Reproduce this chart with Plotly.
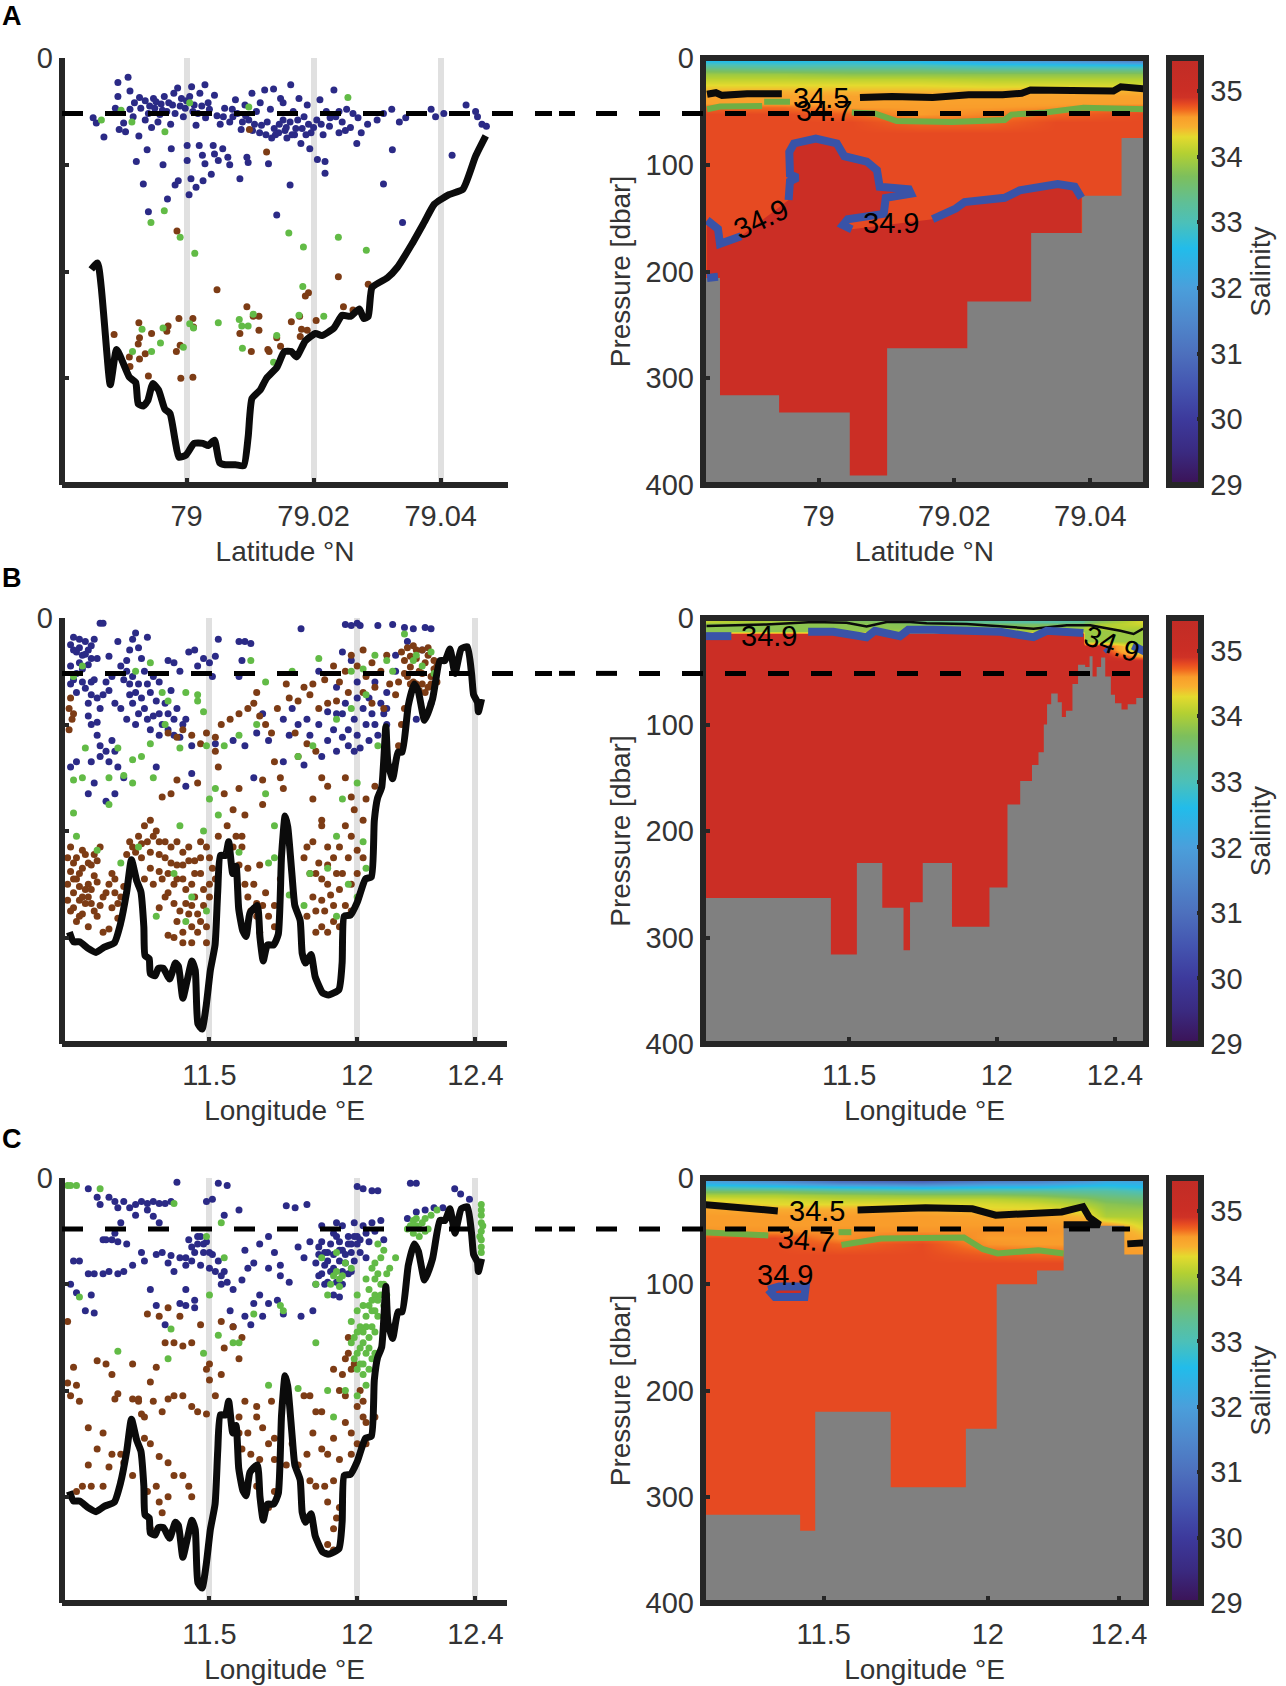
import plotly.graph_objects as go

W, H = 1286, 1686
FONT = "Liberation Sans"
DARK = "#262626"
TEXT = "#333333"
NAVY = "#2b2a86"
GREEN = "#62bb46"
BROWN = "#7d3c15"

# salinity colour map
sal_vals = [29, 29.5, 30, 30.5, 31, 31.5, 32, 32.6, 33, 33.3, 33.7, 34.05, 34.3, 34.45, 34.6, 34.72, 34.8, 34.9, 35, 35.5]
sal_cols = ["#3b1255", "#3a2a80", "#3d3a9c", "#4455b0", "#4d70bd", "#4f88cc", "#4a9fdb", "#22bcea", "#4cc0b8", "#5fbf96",
            "#7dbf5c", "#b4d032", "#e4da2e", "#f8b030", "#f99d2b", "#f0641f", "#e64a22", "#cf3226", "#cb2e25", "#c02c26"]
sal_ticks = [29, 30, 31, 32, 33, 34, 35]

pressure_ticks = [0, 100, 200, 300, 400]
lat_ticks = [79, 79.02, 79.04]
lat_labels = ["79", "79.02", "79.04"]
lon_ticks = [11.5, 12, 12.4]
lon_labels = ["11.5", "12", "12.4"]
dashed_p = [52, 52, 48]

# ---- ship track bottom depth
a_track_lat = [78.985, 78.986, 78.988, 78.989, 78.991, 78.992, 78.9924, 78.9932, 78.9939, 78.9947, 78.9956, 78.9966, 78.9974,
               78.9982, 78.9988, 78.9999, 79.0012, 79.0026, 79.0034, 79.0044, 79.0052, 79.0061, 79.0077, 79.009, 79.0097,
               79.0103, 79.0116, 79.0126, 79.0142, 79.0154, 79.0165, 79.0173, 79.0187, 79.0203, 79.0213, 79.0232, 79.0245,
               79.0258, 79.0272, 79.0279, 79.0286, 79.0292, 79.0316, 79.0332, 79.0355, 79.0374, 79.039, 79.0413, 79.0435,
               79.0455, 79.0471]
a_track_p = [198, 192, 306, 273, 299, 304, 324, 326, 321, 305, 311, 329, 333, 358, 374, 372, 361, 361, 363, 358, 379, 381, 381,
             382, 355, 319, 311, 300, 290, 275, 275, 280, 265, 258, 260, 253, 241, 242, 235, 244, 242, 215, 206, 196, 174,
             154, 137, 128, 123, 92, 73]
lon_track = [11.026, 11.04, 11.061, 11.088, 11.116, 11.144, 11.178, 11.199, 11.22, 11.236, 11.254, 11.268, 11.278, 11.282, 11.296,
             11.3, 11.316, 11.327, 11.344, 11.365, 11.385, 11.395, 11.41, 11.424, 11.441, 11.452, 11.461, 11.475, 11.489, 11.503,
             11.519, 11.528, 11.537, 11.554, 11.565, 11.579, 11.59, 11.599, 11.613, 11.624, 11.637, 11.662, 11.671, 11.682, 11.696,
             11.717, 11.733, 11.744, 11.756, 11.765, 11.779, 11.789, 11.807, 11.814, 11.825, 11.844, 11.858, 11.883, 11.903, 11.938,
             11.949, 11.956, 11.977, 12.0, 12.028, 12.048, 12.058, 12.069, 12.083, 12.097, 12.104, 12.12, 12.138, 12.152, 12.173,
             12.193, 12.207, 12.228, 12.255, 12.28, 12.297, 12.314, 12.331, 12.352, 12.373, 12.387, 12.394, 12.407, 12.41, 12.421]
lon_track_p = [295, 304, 304, 310, 314, 309, 305, 287, 257, 227, 247, 257, 290, 317, 320, 334, 336, 329, 329, 339, 324, 327, 357, 341,
               322, 331, 381, 386, 364, 331, 307, 257, 223, 223, 210, 240, 233, 273, 294, 299, 277, 270, 300, 322, 307, 307, 297, 223,
               186, 196, 240, 270, 284, 315, 324, 316, 337, 352, 354, 349, 324, 280, 279, 267, 245, 243, 190, 169, 159, 102, 136, 151,
               126, 126, 82, 62, 69, 96, 76, 40, 40, 29, 52, 29, 27, 52, 72, 79, 88, 76]

# ---- water samples, (position, pressure)
a_blue = [(78.9853,56),(78.9858,61),(78.987,74),(78.9888,47),(78.9894,67),(78.9892,23),(78.9908,18),(78.9892,36),(78.9904,69),(78.9901,61),
          (78.9911,48),(78.9916,55),(78.9911,31),(78.9926,37),(78.9935,40),(78.9948,38),(78.9925,73),(78.9935,58),(78.994,52),(78.9945,65),
          (78.995,47),(78.9955,60),(78.996,43),(78.9965,36),(78.9969,50),(78.9975,62),(78.998,33),(78.9986,28),(78.999,45),(78.9995,55),
          (79,40),(79.0008,27),(79.001,50),(79.0015,63),(79.0021,33),(79.0029,25),(79.0024,45),(79.003,56),(79.0036,48),(79.0044,35),
          (79.0048,54),(79.0053,62),(79.006,47),(79.0068,60),(79.0077,39),(79.008,52),(79.0086,67),(79.0092,44),(79.0098,58),(79.0103,33),
          (79.011,50),(79.0115,70),(79.0123,30),(79.0127,60),(79.0132,48),(79.0137,29),(79.014,72),(79.0148,38),(79.0152,58),(79.0158,75),
          (79.0164,25),(79.0168,50),(79.0172,66),(79.0177,38),(79.018,80),(79.0185,55),(79.019,44),(79.0196,70),(79.021,39),(79.0205,58),
          (79.0215,72),(79.022,50),(79.0225,64),(79.0232,30),(79.0235,55),(79.024,70),(79.0245,60),(79.0252,48),(79.0258,65),(79.027,56),
          (79.0275,70),(79.0285,62),(79.03,58),(79.031,52),(79.0323,48),(79.0335,60),(79.0345,56),(79.0385,48),(79.0392,55),(79.0405,52),
          (79.044,44),(79.0455,50),(79.0458,55),(79.0465,62),(79.0472,64),(78.9921,97),(78.9938,86),(78.9963,100),(78.9976,85),(78.9932,118),
          (78.9982,119),(78.9987,115),(78.997,132),(78.994,144),(79.0004,128),(79.0001,96),(79.0001,82),(79.002,82),(79.0025,91),(79.0029,99),
          (79.0007,113),(79.0015,121),(79.0026,115),(79.0039,109),(79.0042,82),(79.0044,90),(79.005,96),(79.0057,85),(79.0068,100),(79.0065,93),
          (79.0084,113),(79.0095,93),(79.0097,98),(79.0129,99),(79.0163,119),(79.0142,147),(79.0206,95),(79.0218,97),(79.0218,108),(79.0194,85),
          (79.0268,80),(79.0324,86),(79.031,118),(79.034,154),(79.0418,91),(79.0146,62),(79.0155,68),(79.0163,60),(79.017,72),(79.0182,66),
          (79.0192,62),(79.0138,66),(79.0125,72),(79.0107,62),(79.0093,54),(79.0073,55),(79.0012,44),(78.9992,38),(78.9978,44),(78.9958,53),
          (78.9918,42),(78.9928,47),(78.9942,45),(78.9952,41),(78.9962,49),(78.9972,42),(78.9982,52),(78.9998,47),(79.0005,36),(79.0018,52),
          (79.0034,42),(79.0058,55),(79.0072,48),(79.0088,60),(79.0104,68),(79.0118,63),(79.0134,75),(79.0145,70),(79.0157,65),(79.0166,72),
          (79.0175,58),(79.0188,72),(79.02,65),(79.0212,62),(79.0226,56),(79.024,50),(79.025,68),(79.0262,52),(79.0116,42),(79.0152,42)]
a_green = [(78.9866,58),(78.9897,49),(78.9914,60),(78.9966,69),(79.0005,42),(79.0098,46),(79.0254,37),(78.9944,154),(78.9965,143),(78.999,168),
           (79.0013,183),(79.0161,164),(79.0184,177),(79.0239,168),(79.0283,180),(79.0183,214),(78.993,254),(78.9963,253),(78.9959,267),(78.9945,275),
           (78.9915,275),(79.0005,249),(79.0011,253),(78.9995,271),(79.005,248),(79.0083,245),(79.0087,251),(79.0097,251),(79.0088,272),(79.0105,240),
           (79.0142,260),(79.0137,285),(79.0216,242),(79.0177,241)]
a_brown = [(78.9886,259),(78.9925,248),(78.9926,262),(78.9924,268),(78.9945,258),(78.9971,251),(78.9969,256),(78.9988,244),(79.001,244),(79.0011,252),
           (79.0048,217),(79.0095,233),(79.0105,242),(79.0114,242),(79.0114,255),(79.0084,258),(78.999,269),(78.9984,275),(78.9935,277),(78.9926,282),
           (78.991,280),(78.9911,289),(78.994,298),(78.9991,300),(79.001,299),(79.0102,275),(79.0128,273),(79.013,275),(79.0148,270),(79.0142,262),
           (79.0165,247),(79.0178,242),(79.0181,254),(79.0179,261),(79.019,255),(79.0204,246),(79.0187,223),(79.0192,220),(79.0239,205),(79.0247,233),
           (79.0262,236),(79.0286,212),(78.9985,162),(79.0099,67),(79.0126,88)]

b_blue = [(11.03,25),(11.04,18),(11.05,32),(11.06,28),(11.07,35),(11.08,22),(11.09,30),(11.1,26),(11.11,20),(11.12,38),(11.03,45),(11.05,52),(11.07,48),
          (11.13,5),(11.14,5),(11.16,36),(11.19,22),(11.2,45),(11.22,40),(11.23,30),(11.24,20),(11.25,14),(11.26,28),(11.27,38),(11.29,18),(11.22,50),(11.24,55),
          (11.26,62),(11.28,50),(11.03,62),(11.05,70),(11.08,66),(11.09,80),(11.1,60),(11.12,75),(11.14,72),(11.16,68),(11.09,92),(11.1,100),(11.12,98),(11.2,85),
          (11.23,72),(11.24,80),(11.26,90),(11.28,85),(11.3,70),(11.32,78),(11.33,90),(11.35,80),(11.37,68),(11.34,100),(11.36,105),(11.38,110),(11.4,112),(11.42,95),
          (11.44,120),(11.33,60),(11.36,40),(11.38,42),(11.4,50),(11.43,32),(11.45,30),(11.46,45),(11.48,38),(11.5,42),(11.52,36),(11.53,20),(11.51,55),(11.6,22),
          (11.62,22),(11.64,24),(11.61,40),(11.6,55),(11.13,120),(11.15,125),(11.16,135),(11.18,125),(11.12,110),(11.19,140),(11.05,135),(11.03,140),(11.11,155),
          (11.18,165),(11.09,165),(11.15,172),(11.32,140),(11.42,158),(11.44,146),(11.21,150),(11.52,118),(11.58,115),(11.62,120),(11.66,108),(11.7,115),(11.68,90),
          (11.75,95),(11.78,85),(11.8,100),(11.84,110),(11.87,100),(11.9,115),(11.95,90),(11.97,105),(12,110),(12.03,100),(12.05,90),(12.08,80),(11.99,125),(11.93,125),
          (11.82,138),(11.75,135),(11.65,150),(12.1,100),(12.0,5),(11.96,6),(11.98,7),(12.01,7),(12.07,7),(12.12,6),(12.16,9),(12.19,10),(12.23,9),(12.25,10),(12.17,22),
          (12.22,30),(11.81,10),(11.95,32),(11.98,40),(12.0,60),(11.93,65),(11.87,50),(12.06,60),(12.1,70),(12.13,50),(12.2,95),(12.25,80),(11.06,42),(11.09,44),(11.11,58),
          (11.18,80),(11.3,105),(11.31,92),(11.38,95),(11.77,110),(11.83,95),(11.99,95),(12.04,75),(12.07,110),(11.92,105),(11.88,130),
          (11.04,30),(11.06,20),(11.08,34),(11.1,38),(11.04,58),(11.07,60),(11.1,72),(11.13,85),(11.15,60),(11.17,55),(11.21,58),(11.23,62),(11.25,70),(11.27,75),(11.29,62),
          (11.31,55),(11.22,95),(11.25,100),(11.29,95),(11.33,110),(11.36,90),(11.39,85),(11.41,100),(11.13,130),(11.17,115),(11.1,135),(12.02,85),(12.0,75),(11.96,80),
          (11.93,90),(11.9,88),(12.06,100),(12.09,90),(12.04,115),(12.01,122),(11.97,120),(11.95,112),(12.1,85),(12.13,35)]
b_green = [(11.04,55),(11.07,45),(11.25,50),(11.3,42),(11.36,78),(11.34,70),(11.42,70),(11.46,72),(11.46,78),(11.48,88),(11.35,100),(11.3,118),(11.19,122),(11.24,133),
           (11.27,130),(11.21,148),(11.16,150),(11.08,122),(11.04,152),(11.07,150),(11.16,175),(11.04,183),(11.24,155),(11.31,150),(11.49,120),(11.55,120),(11.64,40),
           (11.69,60),(11.78,50),(11.87,38),(11.98,50),(12.06,35),(12.16,15),(12.2,35),(12.12,50),(12.03,72),(11.98,85),(11.93,95),(11.85,120),(11.8,130),(11.66,100),
           (11.6,110),(11.52,160),(11.5,170),(11.53,185),(11.69,165),(11.4,122),(11.72,195),(11.95,170),(12.0,155),(12.07,120),(12.02,210),(11.84,240),(11.7,230),(11.6,220),
           (11.48,200),(11.4,195),(11.26,215),(11.05,205),(11.12,218),(11.2,230),(11.38,240),(11.44,262),(11.32,280),(11.42,285),(11.49,275),(11.72,225),(11.77,260),
           (11.82,270),(11.9,235),(11.93,205),(11.97,250),(12.0,262),(12.03,235),(11.93,280),(12.19,40),(12.22,45),(12.25,32),(12.26,52),(12.1,40),(12.02,48)]
b_brown = [(11.025,85),(11.035,95),(11.025,105),(11.04,90),(11.03,75),(11.36,108),(11.39,112),(11.41,105),(11.44,110),(11.47,118),(11.49,108),(11.52,112),(11.54,100),(11.52,125),
           (11.57,95),(11.6,90),(11.63,85),(11.65,80),(11.67,92),(11.69,100),(11.71,108),(11.66,70),(11.73,85),(11.76,62),(11.77,75),(11.8,78),(11.82,65),(11.84,72),(11.85,62),
           (11.87,85),(11.89,58),(11.9,80),(11.92,45),(11.94,60),(11.96,50),(11.98,35),(12.0,45),(12.02,30),(12.03,55),(12.05,42),(12.06,65),(12.08,50),(12.1,35),(12.11,62),(12.09,85),
           (12.13,72),(12.14,60),(12.02,70),(11.97,70),(11.93,78),(12.05,80),(12.15,32),(12.16,40),(12.17,28),(12.18,46),(12.19,26),(12.2,38),(12.21,50),(12.22,30),(12.23,42),(12.24,28),
           (12.25,55),(12.26,40),(12.27,60),(12.17,55),(12.19,60),(12.21,68),(12.23,70),(12.24,65),(12.16,85),(12.15,100),(12.14,120),(11.79,108),(11.83,118),(11.86,125),(11.88,150),
           (11.8,130),(11.72,135),(11.74,150),(11.75,160),(11.68,152),(11.6,160),(11.55,165),(11.53,140),(11.46,155),(11.39,152),(11.34,168),(11.37,165),(11.9,158),(11.96,150),(11.98,168),
           (11.99,180),(12.03,170),(12.06,158),(11.88,190),(11.85,170),(11.62,185),(11.68,175),(11.58,180),(11.53,205),
           (11.03,215),(11.05,225),(11.07,218),(11.09,230),(11.11,222),(11.13,215),(11.03,238),(11.05,245),(11.07,235),(11.09,250),(11.11,242),(11.04,258),(11.06,265),(11.08,255),(11.1,268),
           (11.03,275),(11.05,285),(11.07,278),(11.09,290),(11.12,280),(11.14,262),(11.16,250),(11.17,272),(11.19,282),(11.16,292),(11.18,258),(11.2,262),(11.22,222),(11.24,215),(11.26,205),
           (11.28,195),(11.3,190),(11.32,200),(11.27,225),(11.3,220),(11.33,222),(11.35,210),(11.37,230),(11.28,245),(11.31,250),(11.34,245),(11.36,258),(11.39,232),(11.41,220),(11.43,215),
           (11.45,228),(11.47,210),(11.5,225),(11.38,250),(11.41,245),(11.44,250),(11.47,240),(11.5,250),(11.42,268),(11.45,262),(11.48,270),(11.39,285),(11.41,295),(11.44,290),(11.47,285),
           (11.36,298),(11.33,272),(11.49,290),(11.56,195),(11.59,205),(11.61,215),(11.63,235),(11.65,250),(11.67,232),(11.63,262),(11.66,268),(11.69,258),(11.7,280),(11.67,295),(11.72,270),
           (11.72,290),(11.74,245),(11.82,225),(11.85,210),(11.88,195),(11.9,215),(11.92,225),(11.84,240),(11.87,230),(11.9,250),(11.93,240),(11.85,262),(11.88,265),(11.91,260),(11.94,255),
           (11.97,225),(11.98,205),(12.0,218),(12.02,190),(11.96,195),(11.83,280),(11.86,295),(11.88,290),(11.9,295),(11.92,285),(11.94,290),(11.98,275),(11.96,270),
           (11.02,225),(11.04,230),(11.06,240),(11.08,222),(11.1,232),(11.12,228),(11.02,250),(11.04,245),(11.06,252),(11.08,268),(11.1,255),(11.12,248),(11.02,265),(11.04,272),(11.06,280),
           (11.07,262),(11.09,262),(11.11,275),(11.13,270),(11.15,258),(11.17,240),(11.18,245),(11.14,295),(11.19,268),(11.21,252),(11.23,210),(11.25,220),(11.27,212),(11.29,210),(11.31,205),
           (11.33,210),(11.35,225),(11.37,215),(11.39,210),(11.41,232),(11.43,228),(11.45,240),(11.47,225),(11.49,215),(11.51,235),(11.3,235),(11.33,238),(11.36,240),(11.39,245),(11.42,255),
           (11.44,270),(11.46,278),(11.48,255),(11.5,262),(11.52,245),(11.35,262),(11.38,268),(11.4,275),(11.43,278),(11.46,295),(11.49,305),(11.41,305),(11.44,305),(11.38,300),(11.62,250),
           (11.64,275),(11.66,280),(11.68,270),(11.6,232),(11.58,215),(11.61,205),(11.83,215),(11.86,240),(11.88,245),(11.9,232),(11.86,275),(11.89,275),(11.92,270),(11.95,240),(11.98,250),
           (12.0,240),(12.02,225),(11.94,215),(12.18,36),(12.2,30),(12.22,52),(12.24,35),(12.26,48),(12.16,52),(12.18,62),(12.2,62),(12.22,62),(12.25,62),(12.27,45)]

c_blue = [(11.09,10),(11.12,18),(11.13,25),(11.16,18),(11.18,22),(11.19,28),(11.21,22),(11.23,28),(11.25,25),(11.27,22),(11.29,24),(11.31,22),(11.33,24),(11.35,24),(11.37,22),(11.29,30),(11.31,36),
          (11.33,42),(11.25,35),(11.2,42),(11.39,4),(11.53,5),(11.56,7),(11.49,22),(11.51,20),(11.55,35),(11.6,30),(11.76,26),(11.79,28),(11.83,25),(11.14,58),(11.15,58),(11.17,58),(11.19,60),
          (11.22,62),(11.18,52),(11.04,78),(11.06,78),(11.09,90),(11.11,90),(11.14,90),(11.16,88),(11.19,90),(11.21,88),(11.24,82),(11.27,70),(11.28,78),(11.32,72),(11.34,70),(11.37,73),(11.4,75),
          (11.42,75),(11.44,65),(11.46,62),(11.47,55),(11.49,60),(11.48,70),(11.51,72),(11.53,78),(11.55,88),(11.5,85),(11.47,82),(11.42,82),(11.38,88),(11.03,100),(11.05,108),(11.1,110),(11.08,125),
          (11.11,127),(11.3,105),(11.32,120),(11.4,118),(11.42,120),(11.45,122),(11.35,138),(11.54,100),(11.56,98),(11.58,105),(11.61,96),(11.63,85),(11.65,80),(11.62,68),(11.67,62),(11.7,55),(11.72,70),
          (11.74,82),(11.7,85),(11.74,92),(11.77,98),(11.8,65),(11.82,75),(11.84,60),(11.86,80),(11.87,65),(11.9,70),(11.92,52),(11.94,60),(11.95,45),(11.97,55),(11.98,70),(11.92,85),(11.94,78),(11.96,80),
          (11.88,90),(11.9,98),(11.92,110),(11.94,112),(11.86,100),(11.95,100),(11.98,88),(12.0,55),(12.02,45),(12.04,60),(12.06,50),(12.08,40),(12.09,58),(11.99,42),(11.93,42),(11.88,45),(12.01,70),(12.03,75),
          (12.0,8),(12.02,10),(12.05,12),(12.07,12),(12.18,5),(12.2,5),(12.33,10),(12.35,15),(12.38,20),(12.17,38),(12.2,32),(12.23,30),(12.26,28),(12.29,28),(11.67,110),(11.7,118),(11.73,115),(11.75,128),(11.65,118),
          (11.57,125),(11.62,130),(11.58,140),(11.64,138),(11.68,130),(11.85,125),(11.81,130),(11.42,105),(11.45,115),
          (11.88,60),(11.89,70),(11.91,62),(11.93,55),(11.95,68),(11.97,62),(11.99,55),(11.9,78),(11.92,72),(11.94,68),(11.96,72),(11.98,62),(12.0,62),(11.87,72),(11.89,82),(11.91,88),(11.93,98),(11.95,88),(11.97,90),
          (11.99,78),(12.01,58),(12.03,52),(12.05,42),(11.87,92),(11.89,100),(11.43,58),(11.45,70),(11.46,55),(11.48,62),(11.44,78),(11.5,70),(11.52,88),(11.54,92),(11.36,80)]
c_green = [(11.02,7),(11.03,7),(11.05,7),(11.13,10),(11.38,24),(11.49,55),(11.54,42),(11.55,75),(11.48,165),(11.58,155),(11.53,148),(11.6,155),(11.36,170),(11.5,110),(11.19,163),(11.37,142),(11.06,112),
           (11.65,128),(11.75,125),(11.74,120),(11.86,100),(11.88,75),(11.93,70),(11.98,85),(11.9,110),(11.92,92),(11.94,95),(11.96,80),(12.0,110),(12.03,95),(12.05,85),(12.06,80),(12.08,75),(12.09,68),
           (12.07,62),(12.1,90),(12.04,105),(12.06,110),(12.08,100),(12.09,120),(12.05,125),(12.03,130),(12.07,130),(12.1,110),(12.02,145),(12.04,150),(12.06,145),(12.0,125),(11.98,135),(12.01,160),(12.03,165),
           (12.05,170),(11.99,170),(12.0,180),(12.02,185),(12.04,180),(12.03,195),(11.98,155),(12.06,165),(12.09,100),(12.11,85),(12.13,75),(12.19,40),(12.2,45),(12.22,42),(12.24,48),(12.19,52),(12.21,55),(12.23,38),
           (12.25,35),(12.27,30),(12.42,25),(12.42,35),(12.42,42),(12.42,50),(12.42,58),(12.42,65),(11.86,155),(11.9,200),(11.8,198),(11.7,195),(11.96,200),(12.0,205),(11.92,225),(12.02,175),
           (12.06,95),(12.07,90),(12.08,110),(12.05,115),(12.04,120),(12.02,120),(12.03,140),(12.05,140),(12.07,115),(12.0,145),(11.99,150),(12.01,140),(12.04,160),(12.02,155),(12.0,165),(12.01,175),(12.06,125),
           (11.91,100),(11.93,88),(11.95,92),(11.94,102),(12.2,38),(12.21,48),(12.18,45),(12.23,50),(12.42,30),(12.425,45),(12.415,55),(12.42,70),(12.17,48),(12.19,46)]
c_brown = [(11.02,135),(11.04,178),(11.05,195),(11.02,193),(11.03,205),(11.06,210),(11.12,172),(11.15,175),(11.17,185),(11.18,208),(11.19,203),(11.24,208),(11.26,208),(11.27,222),(11.28,225),(11.3,192),
           (11.32,178),(11.31,210),(11.34,220),(11.36,208),(11.38,205),(11.41,205),(11.44,215),(11.46,220),(11.49,222),(11.5,190),(11.52,205),(11.54,185),(11.5,175),(11.49,180),(11.47,138),(11.44,155),(11.41,158),
           (11.38,155),(11.35,155),(11.29,128),(11.33,130),(11.36,122),(11.4,130),(11.54,135),(11.58,140),(11.61,150),(11.6,170),(11.55,160),(11.24,175),(11.26,210),(11.24,240),(11.28,245),(11.3,250),(11.33,262),
           (11.36,268),(11.38,280),(11.41,280),(11.43,290),(11.44,300),(11.33,305),(11.36,300),(11.29,295),(11.32,290),(11.09,235),(11.14,240),(11.17,260),(11.21,268),(11.12,255),(11.16,272),(11.09,270),(11.1,290),
           (11.07,290),(11.05,295),(11.14,290),(11.2,260),(11.24,280),(11.3,330),(11.34,315),(11.6,225),(11.63,240),(11.66,225),(11.62,210),(11.6,240),(11.64,260),(11.68,235),(11.7,250),(11.61,255),(11.67,265),(11.72,245),
           (11.66,215),(11.71,210),(11.72,265),(11.66,290),(11.7,310),(11.72,295),(11.82,205),(11.84,205),(11.86,220),(11.85,240),(11.88,255),(11.9,260),(11.92,245),(11.94,265),(11.96,230),(11.98,240),(12.0,215),(12.02,225),
           (12.0,250),(11.98,260),(11.96,205),(11.94,200),(12.01,200),(12.03,230),(11.92,180),(11.95,185),(11.97,165),(11.97,150),(11.99,175),(12.02,210),(11.84,285),(11.86,290),(11.89,290),(11.92,285),(11.9,305),(11.94,310),
           (11.93,320),(11.92,330),(11.9,345),(11.92,350),(12.03,250),(11.96,170),(11.98,180),(12.06,225),(11.88,220),(11.83,260),(11.8,270),(11.78,250),(11.76,270)]

# ---- bottom steps, hidden by the grey floor
a_edges = [78.982, 78.9855, 78.9942, 79.0046, 79.0101, 79.0219, 79.0313, 79.0388, 79.0446, 79.05]
a_floor = [206, 316, 332, 391, 272, 228, 164, 129, 75]
b_edges = [11.0, 11.438, 11.526, 11.612, 11.684, 11.706, 11.749, 11.848, 11.975, 12.036, 12.079, 12.119, 12.141, 12.159, 12.17, 12.184, 12.206, 12.22,
           12.234, 12.256, 12.275, 12.299, 12.314, 12.324, 12.338, 12.353, 12.367, 12.386, 12.4, 12.422, 12.443, 12.472, 12.51]
b_floor = [263, 316, 230, 272, 312, 267, 230, 290, 253, 175, 153, 138, 126, 100, 81, 71, 79, 93, 87, 62, 44, 46, 36, 55, 46, 37, 55, 72, 80, 86, 81, 75]
c_edges = [11.12, 11.428, 11.474, 11.704, 11.933, 12.027, 12.15, 12.231, 12.416, 12.49]
c_floor = [317, 332, 220, 291, 236, 100, 87, 45, 72]

# ---- salinity sections
a_sec_x = [78.984, 78.995, 79.005, 79.015, 79.025, 79.035, 79.048]
a_sec_p = [0, 3, 7, 11, 15, 20, 25, 30, 36, 42, 46, 52, 60, 70, 400]
a_sec_z = [[32.3, 32.4, 32.6, 32.2, 31.7, 31.5, 30.8],
           [32.6, 32.6, 32.7, 32.5, 32.1, 31.9, 31.4],
           [33.1, 33.0, 33.0, 33.0, 32.8, 32.7, 32.6],
           [33.6, 33.5, 33.5, 33.5, 33.4, 33.4, 33.4],
           [33.9, 33.9, 33.8, 33.8, 33.8, 33.8, 33.8],
           [34.1, 34.1, 34.1, 34.1, 34.05, 34.05, 34.05],
           [34.3, 34.3, 34.3, 34.3, 34.25, 34.25, 34.2],
           [34.42, 34.42, 34.4, 34.4, 34.4, 34.45, 34.4],
           [34.55, 34.55, 34.55, 34.55, 34.55, 34.55, 34.55],
           [34.58, 34.58, 34.58, 34.58, 34.58, 34.58, 34.58],
           [34.72, 34.7, 34.6, 34.6, 34.6, 34.62, 34.72],
           [34.8, 34.8, 34.72, 34.6, 34.65, 34.72, 34.8],
           [34.8, 34.8, 34.8, 34.72, 34.72, 34.8, 34.8],
           [34.8, 34.8, 34.8, 34.8, 34.8, 34.8, 34.8],
           [34.8, 34.8, 34.8, 34.8, 34.8, 34.8, 34.8]]
b_sec_x = [11.0, 11.3, 11.6, 11.9, 12.2, 12.29, 12.3, 12.35, 12.51]
b_sec_p = [0, 4, 6, 9, 12.5, 15, 22, 26, 30, 40, 400]
b_sec_z = [[34.2, 34.0, 33.5, 33.2, 33.0, 33.1, 33.3, 33.6, 34.2],
           [34.1, 33.9, 33.7, 33.3, 33.2, 33.3, 33.5, 33.8, 34.3],
           [33.8, 33.8, 33.8, 33.6, 33.6, 33.7, 33.8, 34.0, 34.2],
           [33.8, 33.8, 33.8, 33.8, 33.9, 33.9, 34.0, 34.1, 34.0],
           [33.8, 33.8, 33.9, 34.0, 34.0, 34.0, 33.9, 33.9, 33.9],
           [35, 35, 35, 35, 35, 35, 33.9, 33.9, 33.9],
           [35, 35, 35, 35, 35, 35, 33.9, 33.9, 33.9],
           [35, 35, 35, 35, 35, 35, 35, 35, 33.8],
           [35, 35, 35, 35, 35, 35, 35, 35, 33.9],
           [35, 35, 35, 35, 35, 35, 35, 35, 35],
           [35, 35, 35, 35, 35, 35, 35, 35, 35]]
c_sec_x = [11.13, 11.35, 11.55, 11.8, 12.0, 12.15, 12.3, 12.36, 12.48]
c_sec_p = [0, 4, 8, 12, 16, 20, 24, 30, 36, 44, 50, 56, 62, 72, 80, 400]
c_sec_z = [[31.8, 31.2, 30.4, 30.0, 30.6, 30.8, 31.2, 31.6, 31.8],
           [32.2, 31.8, 31.2, 31.0, 31.5, 31.6, 32.0, 32.3, 32.2],
           [33.0, 32.8, 32.6, 32.4, 32.6, 32.6, 32.8, 32.8, 32.6],
           [33.6, 33.6, 33.4, 33.3, 33.3, 33.3, 33.2, 33.2, 33.0],
           [34.0, 34.0, 33.9, 33.8, 33.8, 33.7, 33.5, 33.4, 33.3],
           [34.25, 34.2, 34.1, 34.1, 34.1, 34.0, 33.8, 33.6, 33.5],
           [34.45, 34.3, 34.3, 34.3, 34.25, 34.2, 34.0, 33.8, 33.7],
           [34.55, 34.5, 34.5, 34.5, 34.35, 34.35, 34.25, 33.9, 33.9],
           [34.6, 34.6, 34.6, 34.6, 34.55, 34.55, 34.4, 34.0, 34.0],
           [34.6, 34.6, 34.6, 34.6, 34.6, 34.6, 34.6, 34.6, 34.2],
           [34.62, 34.62, 34.62, 34.62, 34.62, 34.62, 34.6, 34.6, 34.35],
           [34.8, 34.8, 34.62, 34.72, 34.6, 34.6, 34.6, 34.6, 34.45],
           [34.8, 34.8, 34.72, 34.8, 34.62, 34.6, 34.6, 34.6, 34.55],
           [34.8, 34.8, 34.8, 34.8, 34.75, 34.72, 34.72, 34.6, 34.6],
           [34.8, 34.8, 34.8, 34.8, 34.8, 34.8, 34.8, 34.8, 34.8],
           [34.8, 34.8, 34.8, 34.8, 34.8, 34.8, 34.8, 34.8, 34.8]]

# ---- contour lines, None breaks the line at a label
a_iso345 = [(78.9836,34),(78.9849,32.5),(78.9858,35),(78.9895,33.5),(78.9946,33.5),None,(79.0061,37),(79.0108,36),(79.0168,37),(79.0221,34.5),(79.0271,34.5),
            (79.0299,33),(79.0312,30),(79.0359,31),(79.0434,31),(79.0445,27),(79.0482,29)]
a_iso347 = [(78.9836,48),(78.9855,45.5),(78.9917,45),None,(78.992,41),(78.9958,41),None,(79.0049,51),(79.0083,52),(79.0115,59),(79.0196,60),(79.0274,58),(79.0284,53),
            (79.0334,51),(79.039,46.5),(79.0482,48)]
a_iso349 = [(78.9836,152),(78.9852,160),(78.9855,174),(78.9886,167),None,(78.9956,133),(78.9958,115.5),(78.9969,112),(78.9958,109),(78.9957,88),(78.9964,80),(78.9996,75.5),
            (79.0027,80),(79.0038,92),(79.0071,97),(79.0086,105),(79.009,120.6),(79.0133,123),(79.0136,127),(79.0099,131),(79.0096,146),(79.0043,151),(79.0036,156.5),(79.0049,160.5),None,
            (79.0168,151),(79.0202,141),(79.0215,135),(79.0274,131),(79.0296,124),(79.0352,118),(79.0377,120.6),(79.0387,131)]
a_iso349b = [(78.9836,206),(78.9852,205)]
b_iso345 = [(11.017,7.5),(11.22,6),(11.378,3.8),(11.491,4.4),(11.559,8),(11.627,3.8),(11.706,3.8),(11.762,5),(11.898,5.6),(12.068,9.4),(12.124,10),(12.237,6.9),(12.316,6.9),(12.418,12),(12.463,15),(12.495,10)]
b_iso349 = [(11.005,17),(11.101,17),None,(11.361,13),(11.446,13),(11.559,18),(11.587,12),(11.672,17),(11.7,11),(11.785,11),(12.011,13),(12.124,18),(12.169,12),(12.293,14),None,
            (12.37,28),(12.38,31),None,(12.46,26),(12.505,32)]
c_iso345 = [(11.132,25),(11.331,31),(11.36,31),None,(11.603,30),(11.81,28),(11.953,29),(12.024,35),(12.225,32),(12.29,27),(12.309,37),(12.341,44),(12.231,44),None,(12.425,62),(12.482,61)]
c_iso347 = [(11.132,51),(11.331,54),None,(11.545,51),(11.584,51),None,(11.554,63),(11.674,57),(11.927,56),(11.985,67),(12.03,71),(12.154,68),(12.231,71)]
c_iso349 = [(11.331,105),(11.364,102),(11.445,102),(11.441,112),(11.351,112),(11.331,105)]

# label text, position, pressure, angle
a_labels = [("34.5", 79.0004, 37, 0), ("34.7", 79.0008, 49.5, 0), ("34.9", 78.9916, 151, -25), ("34.9", 79.0107, 155, 0)]
b_labels = [("34.9", 11.229, 17, 0), ("34.9", 12.39, 24, 20)]
c_labels = [("34.5", 11.48, 31, 0), ("34.7", 11.445, 58, 5), ("34.9", 11.383, 91, 0)]


def xy(points):
    return ([p[0] if p else None for p in points], [p[1] if p else None for p in points])


def dom(a, b, size, flip=False):
    if flip:
        return [1 - b / size, 1 - a / size]
    return [a / size, b / size]


fig = go.Figure()
colorscale = [[(v - 29) / 6.5, c] for v, c in zip(sal_vals, sal_cols)]
shapes = []
annotations = []


def add_axes(n, box, xrange, ticks, labels, title, left):
    x0, x1, y0, y1 = box
    suffix = "" if n == 1 else str(n)
    fig.update_layout(**{
        "xaxis" + suffix: dict(domain=dom(x0, x1, W), range=xrange, tickvals=ticks, ticktext=labels, ticks="inside", ticklen=7, tickwidth=4,
                               tickcolor=DARK, showgrid=left, gridcolor="#e0e0e0", gridwidth=6, zeroline=False, showline=False,
                               ticklabelstandoff=11, tickfont=dict(size=29, color=TEXT, family=FONT),
                               anchor="y" + suffix, title=dict(text=title, standoff=10, font=dict(size=28, color=TEXT, family=FONT))),
        "yaxis" + suffix: dict(domain=dom(y0, y1, H, True), range=[400, 0], tickvals=pressure_ticks,
                               ticktext=["0", "", "", "", ""] if left else [str(t) for t in pressure_ticks],
                               ticks="inside", ticklen=7, tickwidth=4, tickcolor=DARK, showgrid=False, zeroline=False, showline=False,
                               ticklabelstandoff=8, tickfont=dict(size=29, color=TEXT, family=FONT), anchor="x" + suffix,
                               title=dict(text="" if left else "Pressure [dbar]", standoff=6, font=dict(size=28, color=TEXT, family=FONT))),
    })
    xd, yd = "x" + suffix + " domain", "y" + suffix + " domain"
    if left:
        shapes.append(dict(type="line", xref=xd, yref=yd, x0=0, x1=0, y0=0, y1=1, line=dict(color=DARK, width=6)))
        shapes.append(dict(type="line", xref=xd, yref=yd, x0=0, x1=1, y0=0, y1=0, line=dict(color=DARK, width=6)))
    else:
        shapes.append(dict(type="rect", xref=xd, yref=yd, x0=0, x1=1, y0=0, y1=1, line=dict(color=DARK, width=6)))
    return "x" + suffix, "y" + suffix


def left_panel(n, box, xrange, ticks, labels, title, blue, brown, green, track_x, track_y):
    xa, ya = add_axes(n, box, xrange, ticks, labels, title, True)
    for pts, col in ((blue, NAVY), (brown, BROWN), (green, GREEN)):
        x, y = xy(pts)
        fig.add_trace(go.Scatter(x=x, y=y, mode="markers", xaxis=xa, yaxis=ya, showlegend=False, marker=dict(size=7, color=col)))
    fig.add_trace(go.Scatter(x=track_x, y=track_y, mode="lines", xaxis=xa, yaxis=ya, showlegend=False,
                             line=dict(color="#0b0b0b", width=7, shape="spline", smoothing=0.5)))


def right_panel(n, box, xrange, ticks, labels, title, sec, edges, floor, deep, isolines, texts):
    xa, ya = add_axes(n, box, xrange, ticks, labels, title, False)
    bar = dict(tickvals=sal_ticks, ticks="inside", ticklen=7, tickwidth=4, tickcolor=DARK, outlinecolor=DARK, outlinewidth=6,
               thicknessmode="pixels", thickness=32, lenmode="fraction", len=(box[3] - box[2]) / H, xref="paper", yref="paper",
               x=1169 / W, xanchor="left", xpad=0, ypad=0, y=1 - (box[2] + box[3]) / 2 / H, yanchor="middle",
               tickprefix="\u00a0", tickfont=dict(size=29, color=TEXT, family=FONT),
               title=dict(text="Salinity", side="right", font=dict(size=28, color=TEXT, family=FONT)))
    fig.add_trace(go.Heatmap(x=sec[0], y=sec[1], z=sec[2], zmin=29, zmax=35.5, colorscale=colorscale, zsmooth="best",
                             xaxis=xa, yaxis=ya, colorbar=bar, hoverinfo="skip"))
    if deep:
        x, y = xy(deep)
        fig.add_trace(go.Scatter(x=x, y=y, mode="lines", fill="toself", fillcolor="#cb2e25", line=dict(width=0), xaxis=xa, yaxis=ya, showlegend=False))
    # grey sea floor from the deepest bin of each station
    fx, fy = [edges[0]], [400]
    for i, d in enumerate(floor):
        fx += [edges[i], edges[i + 1]]
        fy += [d, d]
    fx.append(edges[-1])
    fy.append(400)
    fig.add_trace(go.Scatter(x=fx, y=fy, mode="lines", fill="toself", fillcolor="#808080", line=dict(width=0), xaxis=xa, yaxis=ya, showlegend=False))
    for pts, col, width in isolines:
        x, y = xy(pts)
        fig.add_trace(go.Scatter(x=x, y=y, mode="lines", xaxis=xa, yaxis=ya, showlegend=False, line=dict(color=col, width=width)))
    for text, x, y, angle in texts:
        annotations.append(dict(text=text, x=x, y=y, xref=xa, yref=ya, showarrow=False, textangle=angle, font=dict(size=29, color="black", family=FONT)))


ROW_A, ROW_B, ROW_C = (58, 485), (618, 1044), (1178, 1603)

left_panel(1, (62, 508, *ROW_A), [78.9804, 79.0506], lat_ticks, lat_labels, "Latitude °N", a_blue, a_brown, a_green, a_track_lat, a_track_p)
right_panel(2, (703, 1146, *ROW_A), [78.983, 79.0482], lat_ticks, lat_labels, "Latitude °N", (a_sec_x, a_sec_p, a_sec_z), a_edges, a_floor,
            [p for p in a_iso349 if p] + [(79.0387, 400), (78.9836, 400)],
            [(a_iso345, "#0b0b0b", 7), (a_iso347, "#6fae45", 6), (a_iso349, "#3953a8", 8), (a_iso349b, "#3953a8", 8)], a_labels)

left_panel(3, (62, 507, *ROW_B), [11.001, 12.507], lon_ticks, lon_labels, "Longitude °E", b_blue, b_brown, b_green, lon_track, lon_track_p)
right_panel(4, (703, 1146, *ROW_B), [11.005, 12.505], lon_ticks, lon_labels, "Longitude °E", (b_sec_x, b_sec_p, b_sec_z), b_edges, b_floor, None,
            [(b_iso345, "#0b0b0b", 2.5), (b_iso349, "#3953a8", 8)], b_labels)

left_panel(5, (62, 507, *ROW_C), [11.001, 12.507], lon_ticks, lon_labels, "Longitude °E", c_blue, c_brown, c_green, lon_track, lon_track_p)
right_panel(6, (703, 1146, *ROW_C), [11.132, 12.482], lon_ticks, lon_labels, "Longitude °E", (c_sec_x, c_sec_p, c_sec_z), c_edges, c_floor, c_iso349,
            [(c_iso345, "#0b0b0b", 7), (c_iso347, "#6fae45", 6), (c_iso349, "#3953a8", 8)], c_labels)

# dashed line running through both panels of a row
for yname, p in zip(["y", "y3", "y5"], dashed_p):
    for x0, x1 in [(62, 552), (559, 575), (596, 617), (639, 1130)]:
        shapes.append(dict(type="line", xref="paper", yref=yname, x0=x0 / W, x1=x1 / W, y0=p, y1=p,
                           line=dict(color="black", width=5, dash="21px,22px")))

for letter, y in [("A", 16), ("B", 578), ("C", 1139)]:
    annotations.append(dict(text="<b>" + letter + "</b>", x=0, y=1 - y / H, xref="paper", yref="paper", xanchor="left", yanchor="middle",
                            showarrow=False, font=dict(size=27, color="black", family=FONT)))

fig.update_layout(width=W, height=H, margin=dict(l=0, r=0, t=0, b=0, autoexpand=False), paper_bgcolor="white", plot_bgcolor="white",
                  font=dict(family=FONT), shapes=shapes, annotations=annotations, showlegend=False)

fig.write_html("out.html", config={"displayModeBar": False}, post_script="document.body.style.margin='0';")
